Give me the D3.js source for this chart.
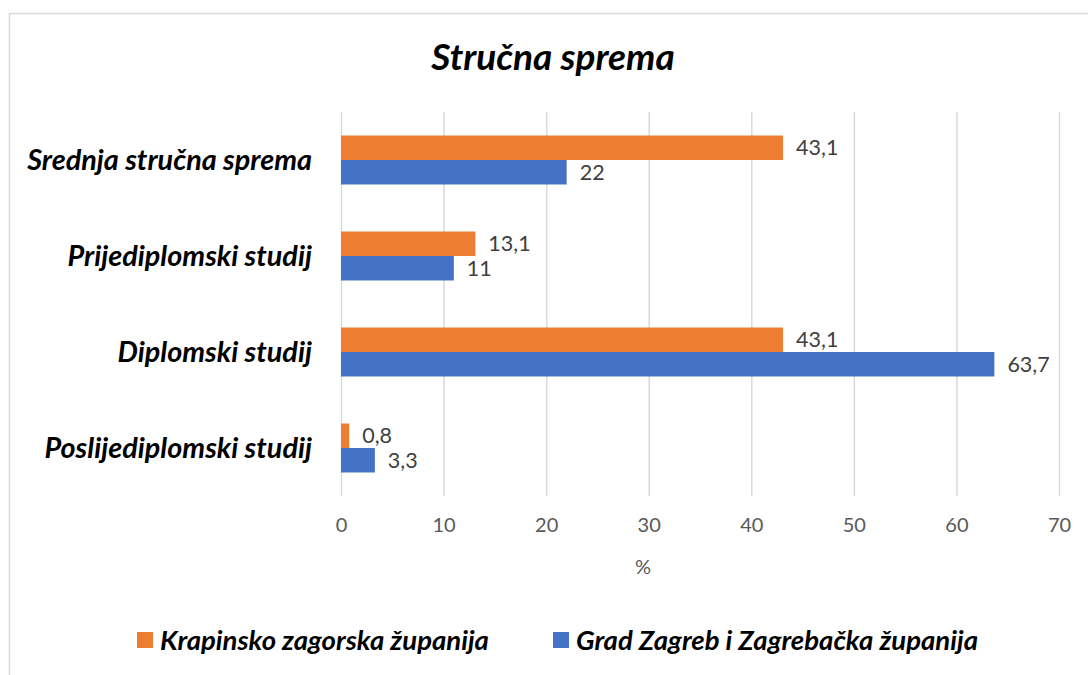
<!DOCTYPE html>
<html>
<head>
<meta charset="utf-8">
<script src="https://cdn.jsdelivr.net/npm/d3@7"></script>
<style>
  body { margin: 0; background: #fff; }
  svg { font-family: Lato, "Open Sans", sans-serif; }
</style>
</head>
<body>
<svg id="graphic"></svg>
<script>
  // data
  var categories = ["Srednja stručna sprema", "Prijediplomski studij", "Diplomski studij", "Poslijediplomski studij"];
  var seriesNames = ["Krapinsko zagorska županija", "Grad Zagreb i Zagrebačka županija"];
  var krapinsko = [43.1, 13.1, 43.1, 0.8];
  var zagreb = [22, 11, 63.7, 3.3];
  var xTicks = [0, 10, 20, 30, 40, 50, 60, 70];
  var colors = ["#ED7D31", "#4472C4"];

  var svgWidth = 1088, svgHeight = 675;
  var svg = d3.select('#graphic')
    .attr("width", svgWidth)
    .attr("height", svgHeight);

  // chart border
  svg.append("rect")
    .attr("x", 9.5).attr("y", 13.5)
    .attr("width", 1100).attr("height", 700)
    .attr("fill", "none")
    .attr("stroke", "#d9d9d9")
    .attr("stroke-width", 1.5);

  var plotLeft = 341, plotRight = 1059, plotTop = 112, plotBottom = 496;

  var x = d3.scaleLinear().domain([0, 70]).range([plotLeft, plotRight]);
  var y = d3.scaleBand().domain(categories).range([plotTop, plotBottom]).paddingInner(0.49).paddingOuter(0.245);
  var ySub = d3.scaleBand().domain(seriesNames).range([0, y.bandwidth()]);

  // title
  svg.append("text")
    .attr("x", 553).attr("y", 70)
    .attr("text-anchor", "middle")
    .attr("font-size", 37)
    .attr("font-weight", "bold")
    .attr("font-style", "italic")
    .attr("fill", "#000")
    .text("Stručna sprema");

  // gridlines + x ticks
  var xAxis = svg.append("g")
    .attr("transform", "translate(0," + plotBottom + ")")
    .call(d3.axisBottom(x).tickValues(xTicks).tickSize(-(plotBottom - plotTop)).tickPadding(22));
  xAxis.select(".domain").remove();
  xAxis.selectAll(".tick line").attr("stroke", "#d9d9d9").attr("stroke-width", 1.5);
  xAxis.selectAll(".tick text")
    .attr("font-size", 20)
    .attr("font-family", "Lato, sans-serif")
    .attr("fill", "#595959");

  svg.append("text")
    .attr("x", 643).attr("y", 574)
    .attr("text-anchor", "middle")
    .attr("font-size", 20)
    .attr("fill", "#595959")
    .text("%");

  // category labels
  svg.selectAll(".cat")
    .data(categories)
    .enter().append("text")
    .attr("class", "cat")
    .attr("x", 312)
    .attr("y", function(d) { return y(d) + y.bandwidth() / 2; })
    .attr("dy", "0.35em")
    .attr("text-anchor", "end")
    .attr("font-size", 28.8)
    .attr("font-weight", "bold")
    .attr("font-style", "italic")
    .attr("fill", "#000")
    .text(function(d) { return d; });

  // bars
  var rows = categories.map(function(c, i) {
    return [
      {cat: c, series: seriesNames[0], value: krapinsko[i], color: colors[0]},
      {cat: c, series: seriesNames[1], value: zagreb[i], color: colors[1]}
    ];
  });
  var groups = svg.selectAll(".grp")
    .data(rows)
    .enter().append("g")
    .attr("class", "grp")
    .attr("transform", function(d) { return "translate(0," + y(d[0].cat) + ")"; });

  groups.selectAll("rect")
    .data(function(d) { return d; })
    .enter().append("rect")
    .attr("x", x(0))
    .attr("y", function(d) { return ySub(d.series); })
    .attr("width", function(d) { return x(d.value) - x(0); })
    .attr("height", ySub.bandwidth())
    .attr("fill", function(d) { return d.color; });

  groups.selectAll("text")
    .data(function(d) { return d; })
    .enter().append("text")
    .attr("x", function(d) { return x(d.value) + 13; })
    .attr("y", function(d) { return ySub(d.series) + ySub.bandwidth() / 2; })
    .attr("dy", "0.35em")
    .attr("font-size", 21.5)
    .attr("fill", "#404040")
    .text(function(d) { return String(d.value).replace(".", ","); });

  // legend
  var legendX = [137, 553];
  var legend = svg.selectAll(".leg")
    .data(seriesNames)
    .enter().append("g")
    .attr("class", "leg")
    .attr("transform", function(d, i) { return "translate(" + legendX[i] + ",640)"; });
  legend.append("rect")
    .attr("x", 0).attr("y", -8)
    .attr("width", 16).attr("height", 16)
    .attr("fill", function(d, i) { return colors[i]; });
  legend.append("text")
    .attr("x", 23).attr("dy", "0.35em")
    .attr("font-size", 27.5)
    .attr("font-weight", "bold")
    .attr("font-style", "italic")
    .attr("fill", "#000")
    .text(function(d) { return d; });
</script>
</body>
</html>
